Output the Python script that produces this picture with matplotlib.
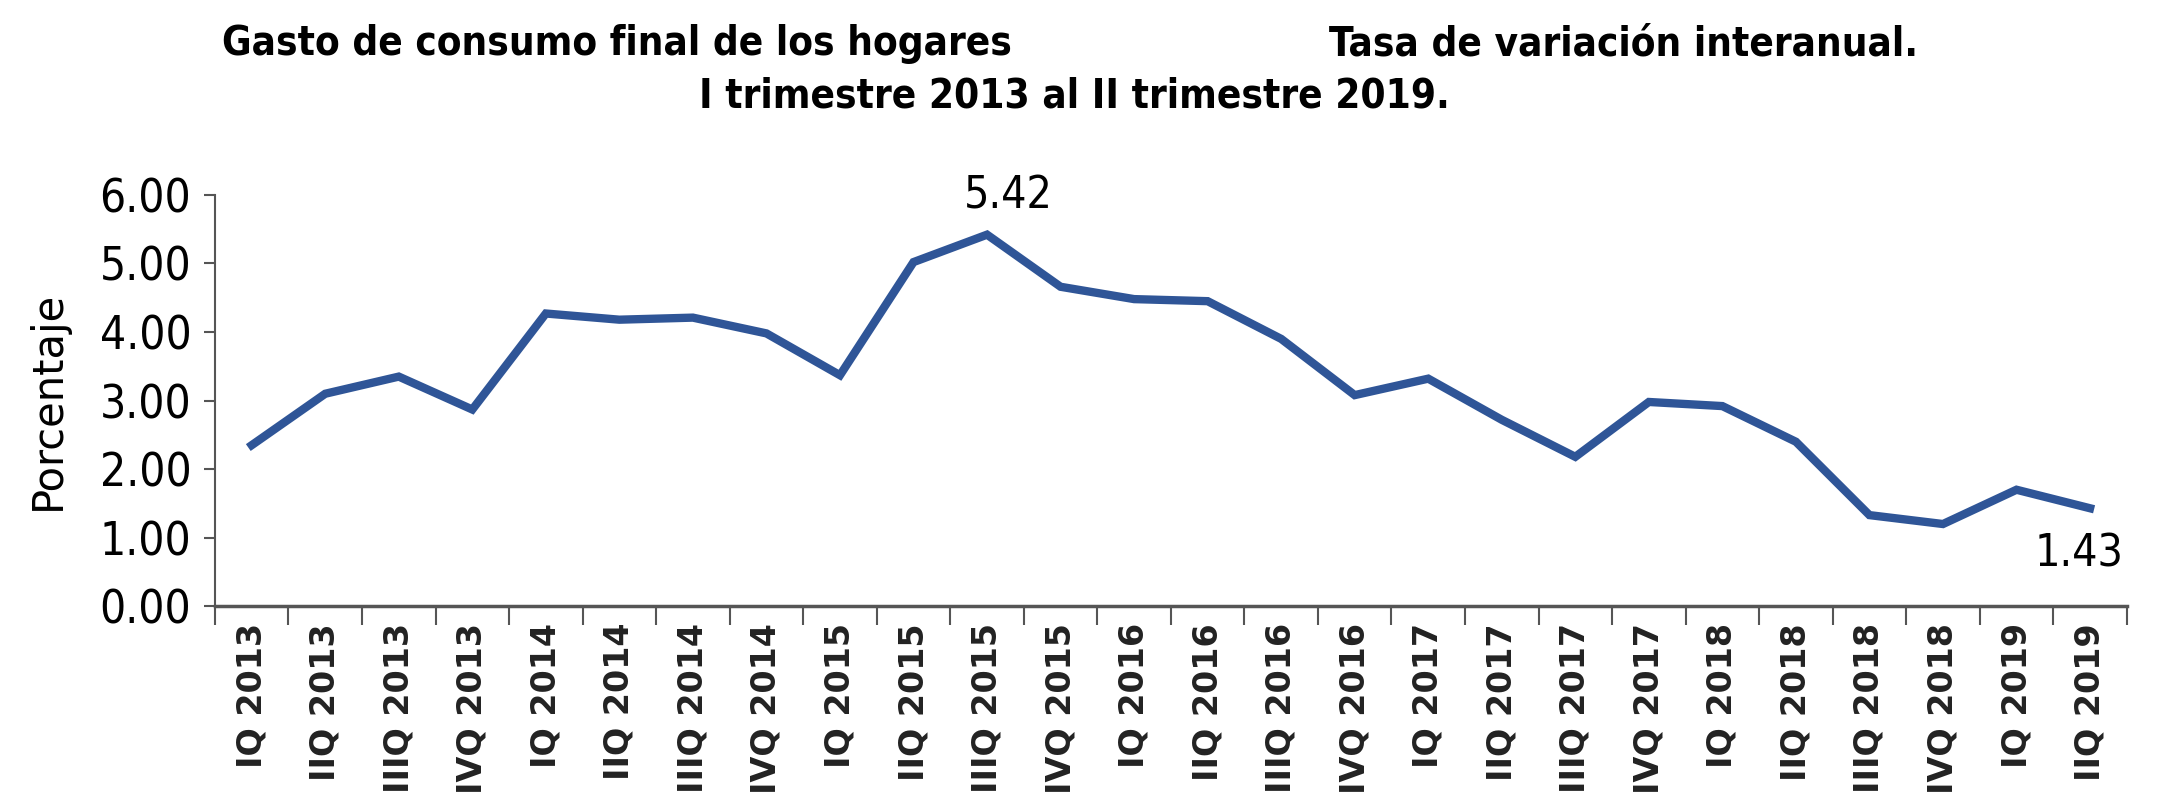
import numpy as np
import matplotlib
matplotlib.use("Agg")
import matplotlib.pyplot as plt
from matplotlib.ticker import FixedLocator, NullFormatter

# datos
trimestres = ["IQ 2013", "IIQ 2013", "IIIQ 2013", "IVQ 2013",
              "IQ 2014", "IIQ 2014", "IIIQ 2014", "IVQ 2014",
              "IQ 2015", "IIQ 2015", "IIIQ 2015", "IVQ 2015",
              "IQ 2016", "IIQ 2016", "IIIQ 2016", "IVQ 2016",
              "IQ 2017", "IIQ 2017", "IIIQ 2017", "IVQ 2017",
              "IQ 2018", "IIQ 2018", "IIIQ 2018", "IVQ 2018",
              "IQ 2019", "IIQ 2019"]
tasa = [2.35, 3.10, 3.35, 2.87, 4.27, 4.18, 4.21, 3.98, 3.37, 5.02, 5.42, 4.66,
        4.48, 4.45, 3.90, 3.08, 3.32, 2.72, 2.18, 2.98, 2.92, 2.40, 1.33, 1.20,
        1.70, 1.43]
y_ticks = [0, 1, 2, 3, 4, 5, 6]

cond = dict(family='DejaVu Sans', stretch='condensed')
azul = '#2F5597'

fig = plt.figure(figsize=(21.8, 8.02), dpi=100)
ax = fig.add_axes([0.0986, 0.244, 0.877, 0.513])

x = np.arange(len(tasa))
ax.plot(x, tasa, color=azul, lw=6, solid_joinstyle='miter')

ax.set_xlim(-0.5, len(tasa) - 0.5)
ax.set_ylim(0, 6)

# ejes estilo excel
for s in ['top', 'right']:
    ax.spines[s].set_visible(False)
ax.spines['left'].set_color('#555555')
ax.spines['bottom'].set_color('#555555')
ax.spines['left'].set_linewidth(1.5)
ax.spines['bottom'].set_linewidth(2.5)

ax.set_yticks(y_ticks)
ax.set_yticklabels([f"{v:.2f}" for v in y_ticks], fontsize=33, **cond)
ax.tick_params(axis='y', length=8, width=1.5, color='#555555', pad=9)

ax.set_xticks(x)
ax.set_xticklabels(trimestres, rotation=90, fontsize=24, fontweight='bold',
                   color='#222222')
ax.tick_params(axis='x', which='major', length=0, pad=12)
ax.xaxis.set_minor_locator(FixedLocator(np.arange(-0.5, len(tasa), 1)))
ax.xaxis.set_minor_formatter(NullFormatter())
ax.tick_params(axis='x', which='minor', length=14, width=1.5, color='#555555')

ax.set_ylabel("Porcentaje", fontsize=30, labelpad=22)

# etiquetas de datos
ax.annotate(f"{tasa[10]:.2f}", (x[10], tasa[10]), xytext=(15, 28),
            textcoords='offset points', ha='center', va='center',
            fontsize=32, **cond)
ax.annotate(f"{tasa[-1]:.2f}", (x[-1], tasa[-1]), xytext=(-8, -33),
            textcoords='offset points', ha='center', va='center',
            fontsize=32, **cond)

# titulo
fig.text(222 / 2180, 1 - 44 / 802, "Gasto de consumo final de los hogares",
         fontweight='bold', fontsize=29, ha='left', va='center', **cond)
fig.text(1918 / 2180, 1 - 44 / 802, "Tasa de variación interanual.",
         fontweight='bold', fontsize=29, ha='right', va='center', **cond)
fig.text(1074 / 2180, 1 - 97 / 802, "I trimestre 2013 al II trimestre 2019.",
         fontweight='bold', fontsize=29, ha='center', va='center', **cond)

fig.savefig("out.png", dpi=100)
